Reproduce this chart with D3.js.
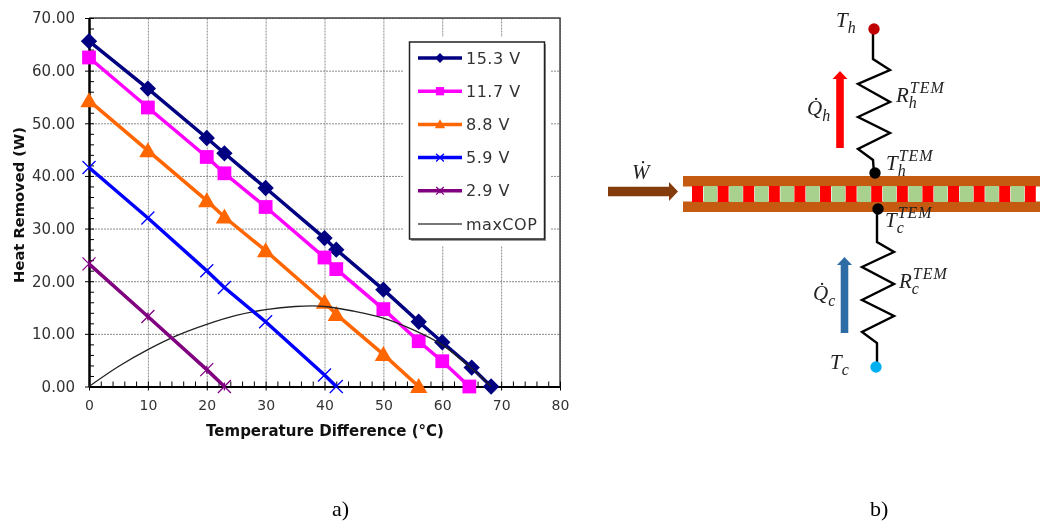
<!DOCTYPE html>
<html>
<head>
<meta charset="utf-8">
<title>Heat removed and thermal circuit</title>
<script src="https://cdn.jsdelivr.net/npm/d3@7"></script>
<style>
  body { margin: 0; background: #fff; }
  svg { display: block; filter: blur(0.45px); }
  text { font-family: "DejaVu Sans", sans-serif; fill: #333; }
  .math text, text.math { font-family: "Liberation Serif", serif; font-style: italic; fill: #222; }
  .grid line { stroke: #8a8a8a; stroke-width: 1; stroke-dasharray: 2 1; }
  .grid path { display: none; }
</style>
</head>
<body>
<svg width="1040" height="525"></svg>
<script>
// ---- chart data
var xTicks = [0, 10, 20, 30, 40, 50, 60, 70, 80];
var yTicks = [0, 10, 20, 30, 40, 50, 60, 70];

var x153 = [0, 10, 20, 23, 30, 40, 42, 50, 56, 60, 65, 68.3];
var y153 = [65.6, 56.6, 47.2, 44.3, 37.7, 28.2, 26, 18.4, 12.3, 8.4, 3.6, 0];
var x117 = [0, 10, 20, 23, 30, 40, 42, 50, 56, 60, 64.6];
var y117 = [62.5, 53, 43.6, 40.5, 34.1, 24.5, 22.3, 14.7, 8.6, 4.8, 0];
var x88 = [0, 10, 20, 23, 30, 40, 42, 50, 56];
var y88 = [54.3, 44.8, 35.3, 32.2, 25.8, 16, 13.7, 6.1, 0];
var x59 = [0, 10, 20, 23, 30, 40, 42];
var y59 = [41.6, 32, 22, 18.8, 12.3, 2.2, 0];
var x29 = [0, 10, 20, 23];
var y29 = [23.3, 13.3, 3.2, 0];
var xCop = [0, 5, 10, 15, 20, 25, 30, 35, 38, 40, 45, 50, 55, 60, 65, 68.3];
var yCop = [0, 3.8, 7, 9.7, 11.8, 13.5, 14.6, 15.2, 15.3, 15.2, 14.3, 13, 10.8, 7.9, 3.4, 0];

var seriesNames = ['15.3 V', '11.7 V', '8.8 V', '5.9 V', '2.9 V', 'maxCOP'];
var seriesColors = ['#000080', '#ff00ff', '#ff6600', '#0000ff', '#800080', '#333333'];
var seriesMarks = ['diamond', 'square', 'triangle', 'x', 'star', null];

// ---- diagram data
var hotZig = [[873, 28], [873, 59], [890, 70], [858, 84], [890, 102], [858, 117], [890, 133], [858, 149], [873, 160], [874, 173]];
var coldZig = [[877, 209], [877, 242], [894, 252], [862, 267], [894, 284], [862, 300], [894, 316], [862, 332], [877, 343], [877, 367]];
var redCells = d3.range(14);
var greenCells = d3.range(13);

var svg = d3.select('svg');
var xScale = d3.scaleLinear().domain([0, 80]).range([89, 560]);
var yScale = d3.scaleLinear().domain([0, 70]).range([386.5, 18]);
var minorX = d3.range(0, 81, 2);
var minorY = d3.range(0, 71, 2);
var chart = svg.append('g');

// grid first
chart.append('g').attr('class', 'grid')
  .attr('transform', 'translate(0,' + yScale(0) + ')')
  .call(d3.axisBottom(xScale).tickValues(xTicks).tickSize(yScale(70) - yScale(0)).tickFormat(''));
chart.append('g').attr('class', 'grid')
  .attr('transform', 'translate(' + xScale(0) + ',0)')
  .call(d3.axisLeft(yScale).tickValues(yTicks).tickSize(xScale(0) - xScale(80)).tickFormat(''));

// frame
chart.append('path')
  .attr('d', 'M' + xScale(0) + ',' + yScale(70) + 'H' + xScale(80) + 'V' + yScale(0))
  .attr('fill', 'none').attr('stroke', '#444').attr('stroke-width', 1.5);

// minor ticks sit inside the plot
var minorB = chart.append('g').attr('transform', 'translate(0,' + yScale(0) + ')')
  .call(d3.axisTop(xScale).tickValues(minorX).tickSize(5).tickFormat(''));
var minorL = chart.append('g').attr('transform', 'translate(' + xScale(0) + ',0)')
  .call(d3.axisRight(yScale).tickValues(minorY).tickSize(5).tickFormat(''));
minorB.selectAll('path').remove();
minorL.selectAll('path').remove();

var axisB = chart.append('g').attr('transform', 'translate(0,' + yScale(0) + ')')
  .call(d3.axisBottom(xScale).tickValues(xTicks).tickSize(4).tickPadding(10).tickSizeOuter(0));
var axisL = chart.append('g').attr('transform', 'translate(' + xScale(0) + ',0)')
  .call(d3.axisLeft(yScale).tickValues(yTicks).tickSize(4).tickPadding(10).tickSizeOuter(0).tickFormat(d3.format('.2f')));
axisB.selectAll('text').style('font-size', '14px').attr('fill', null);
axisL.selectAll('text').style('font-size', '15px').attr('fill', null);
axisB.select('path').attr('stroke-width', 2).attr('stroke', '#000');
axisL.select('path').attr('stroke-width', 2.5).attr('stroke', '#000');

chart.append('text').attr('x', 325).attr('y', 436).attr('text-anchor', 'middle')
  .style('font-size', '15px').style('font-weight', 'bold').style('fill', '#111')
  .text('Temperature Difference (°C)');
chart.append('text').attr('transform', 'translate(24,205) rotate(-90)').attr('text-anchor', 'middle')
  .style('font-size', '14.7px').style('font-weight', 'bold').style('fill', '#111')
  .text('Heat Removed (W)');

function drawMark(g, kind, color, px, py, scale) {
  var at = 'translate(' + px + ',' + py + ')';
  if (kind == 'diamond') {
    g.append('path').attr('transform', at)
      .attr('d', d3.symbol().type(d3.symbolDiamond2).size(170 * scale * scale)()).attr('fill', color);
  } else if (kind == 'square') {
    g.append('path').attr('transform', at)
      .attr('d', d3.symbol().type(d3.symbolSquare).size(190 * scale * scale)()).attr('fill', color);
  } else if (kind == 'triangle') {
    g.append('path').attr('transform', 'translate(' + px + ',' + (py + 1.5 * scale) + ')')
      .attr('d', d3.symbol().type(d3.symbolTriangle).size(130 * scale * scale)()).attr('fill', color);
  } else if (kind == 'x' || kind == 'star') {
    // symbolTimes is a stroked symbol
    g.append('path').attr('transform', at)
      .attr('d', d3.symbol().type(d3.symbolTimes).size(112 * scale * scale)())
      .attr('fill', 'none').attr('stroke', color).attr('stroke-width', 1.3);
    if (kind == 'star') {
      g.append('path').attr('d', 'M' + px + ',' + (py - 4 * scale) + 'V' + (py + 4 * scale))
        .attr('stroke', color).attr('stroke-width', 1.3);
    }
  }
}

function drawSeries(xs, ys, i) {
  var g = chart.append('g');
  var line = d3.line().x(function(d) { return xScale(d[0]); }).y(function(d) { return yScale(d[1]); });
  if (seriesMarks[i] == null) line.curve(d3.curveMonotoneX);
  g.append('path').datum(d3.zip(xs, ys)).attr('d', line)
    .attr('fill', 'none').attr('stroke', seriesMarks[i] ? seriesColors[i] : '#222')
    .attr('stroke-width', seriesMarks[i] ? 3.5 : 1.3);
  if (seriesMarks[i]) {
    xs.forEach(function(v, k) {
      drawMark(g, seriesMarks[i], seriesColors[i], xScale(v), yScale(ys[k]), 1);
    });
  }
}
// the curve lies over the upper three lines and under the lower two
drawSeries(x153, y153, 0);
drawSeries(x117, y117, 1);
drawSeries(x88, y88, 2);
drawSeries(xCop, yCop, 5);
drawSeries(x59, y59, 3);
drawSeries(x29, y29, 4);

// legend
var legend = chart.append('g');
legend.append('rect').attr('x', 404).attr('y', 37).attr('width', 146).attr('height', 209).attr('fill', '#fff');
legend.append('rect').attr('x', 411).attr('y', 44).attr('width', 135).attr('height', 197).attr('fill', '#999');
legend.append('rect').attr('x', 409.5).attr('y', 42).attr('width', 135).attr('height', 197)
  .attr('fill', '#fff').attr('stroke', '#222').attr('stroke-width', 1.5);
seriesNames.forEach(function(name, i) {
  var ly = 58 + i * 33.2;
  legend.append('line').attr('x1', 418).attr('x2', 462).attr('y1', ly).attr('y2', ly)
    .attr('stroke', seriesMarks[i] ? seriesColors[i] : '#777').attr('stroke-width', seriesMarks[i] ? 3.5 : 2);
  if (seriesMarks[i]) drawMark(legend, seriesMarks[i], seriesColors[i], 440, ly, 0.6);
  legend.append('text').attr('x', 466).attr('y', ly + 5.5)
    .style('font-size', '16px').style('letter-spacing', '0.5px').text(name);
});

// ---- part b, the thermal circuit
var diagram = svg.append('g');
var plateX = d3.scaleLinear().domain([0, 1]).range([692, 717.6]);
diagram.append('rect').attr('x', 683).attr('y', 176).attr('width', 357).attr('height', 10.5).attr('fill', '#c55a11');
diagram.append('rect').attr('x', 683).attr('y', 201.5).attr('width', 357).attr('height', 10.5).attr('fill', '#c55a11');
diagram.selectAll('.red').data(redCells).enter().append('rect').attr('class', 'red')
  .attr('x', function(d) { return plateX(d); }).attr('y', 186).attr('width', 11).attr('height', 16).attr('fill', '#ff0000');
diagram.selectAll('.green').data(greenCells).enter().append('rect').attr('class', 'green')
  .attr('x', function(d) { return plateX(d) + 11.6; }).attr('y', 186).attr('width', 13.6).attr('height', 16).attr('fill', '#a9d18e');

var wire = d3.line();
[hotZig, coldZig].forEach(function(p) {
  diagram.append('path').attr('d', wire(p)).attr('fill', 'none').attr('stroke', '#000')
    .attr('stroke-width', 2.4).attr('stroke-linejoin', 'miter');
});
diagram.append('circle').attr('cx', 874).attr('cy', 29).attr('r', 5.7).attr('fill', '#c00000');
diagram.append('circle').attr('cx', 875).attr('cy', 173).attr('r', 5.7).attr('fill', '#000');
diagram.append('circle').attr('cx', 878).attr('cy', 209).attr('r', 5.7).attr('fill', '#000');
diagram.append('circle').attr('cx', 876).attr('cy', 367).attr('r', 5.7).attr('fill', '#00b0f0');

function arrow(x1, y1, x2, y2, half, headLen, headHalf, color) {
  // block arrow along a horizontal or vertical run
  var dx = Math.sign(x2 - x1), dy = Math.sign(y2 - y1);
  var bx = x2 - dx * headLen, by = y2 - dy * headLen;
  var nx = -dy, ny = dx;
  var pts = [[x1 + nx * half, y1 + ny * half], [bx + nx * half, by + ny * half], [bx + nx * headHalf, by + ny * headHalf],
    [x2, y2], [bx - nx * headHalf, by - ny * headHalf], [bx - nx * half, by - ny * half], [x1 - nx * half, y1 - ny * half]];
  diagram.append('path').attr('d', d3.line()(pts) + 'Z').attr('fill', color);
}
arrow(608, 191.5, 678, 191.5, 4.7, 9, 9.5, '#843c0c');
arrow(840, 148, 840, 71, 3.8, 8, 7.5, '#ff0000');
arrow(844.5, 333, 844.5, 257, 3.8, 8, 7.5, '#2e6ca6');

var math = diagram.append('g').attr('class', 'math');
function label(x, y, base, size, sub, sup) {
  var w = math.append('text').attr('x', x).attr('y', y).style('font-size', size + 'px').text(base);
  var sx = x + w.node().getComputedTextLength();
  if (sub) math.append('text').attr('x', sx).attr('y', y + 6).style('font-size', (size * 0.76) + 'px').text(sub);
  if (sup) math.append('text').attr('x', sx + 1).attr('y', y - 9).style('font-size', (size * 0.76) + 'px').style('letter-spacing', '1px').text(sup);
}
label(836, 27, 'T', 21, 'h');
label(807, 115, 'Q\u0307', 21, 'h');
label(896, 102, 'R', 21, 'h', 'TEM');
label(886, 170, 'T', 21, 'h', 'TEM');
label(885, 227, 'T', 21, 'c', 'TEM');
label(899, 288, 'R', 21, 'c', 'TEM');
label(813, 300, 'Q\u0307', 21, 'c');
label(830, 369, 'T', 21, 'c');
label(632, 179, 'W\u0307', 21);

svg.append('text').attr('class', 'math').attr('x', 332).attr('y', 516)
  .style('font-style', 'normal').style('font-size', '22px').style('fill', '#000').text('a)');
svg.append('text').attr('class', 'math').attr('x', 870).attr('y', 516)
  .style('font-style', 'normal').style('font-size', '22px').style('fill', '#000').text('b)');
</script>
</body>
</html>
